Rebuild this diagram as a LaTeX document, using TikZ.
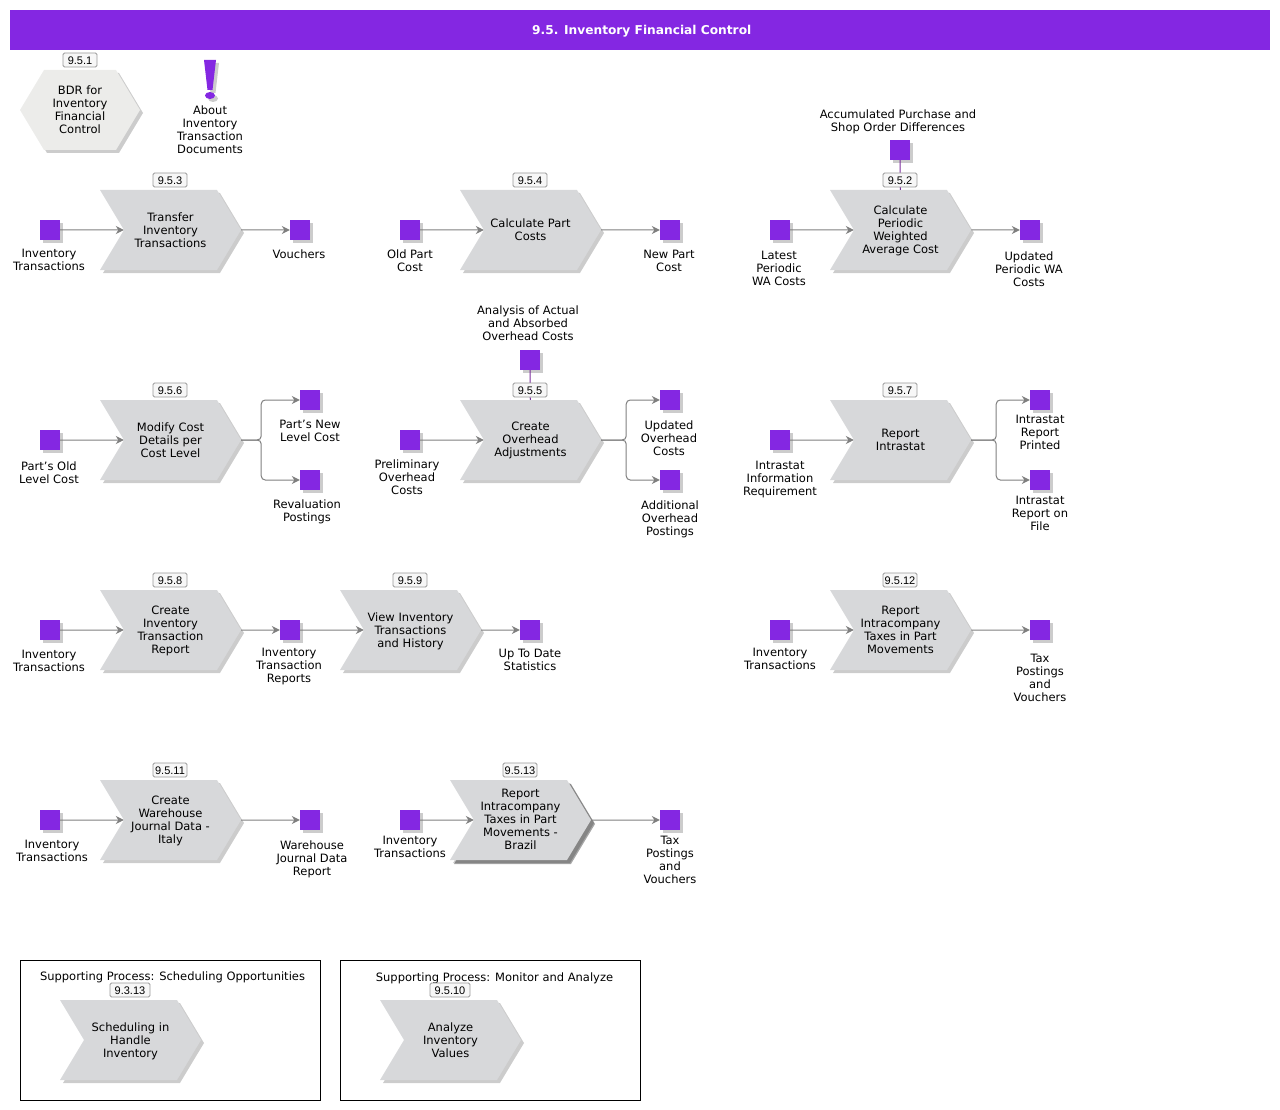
\documentclass[tikz,border=0pt]{standalone}
\usepackage{fontspec}
\setmainfont{DejaVu Sans}
\newfontfamily\tagfont{Liberation Sans}
\usetikzlibrary{arrows.meta,positioning,shapes.symbols,shadows}
\definecolor{procpurple}{HTML}{8427E2}
\definecolor{chevgray}{HTML}{D7D8DA}
\definecolor{hexgray}{HTML}{ECECEA}
\definecolor{linkgray}{HTML}{7F7F7F}
\definecolor{infopurple}{HTML}{7B2D9B}
\tikzset{
  softshadow/.style={drop shadow={shadow xshift=3pt,shadow yshift=-3pt,fill=black,opacity=0.2}},
  bodytext/.style={align=center,font=\fontsize{11.5}{13}\selectfont,text depth=0.7pt},
  procbox/.style={shape=signal,signal from=west,signal to=east,signal pointer angle=118,minimum width=141pt,minimum height=80pt,inner sep=0pt,fill=chevgray,softshadow,bodytext},
  hexbox/.style={shape=signal,signal to=west and east,signal pointer angle=118,minimum width=120pt,minimum height=80pt,inner sep=0pt,fill=hexgray,softshadow,bodytext},
  evtbox/.style={minimum size=20pt,inner sep=0pt,fill=procpurple,softshadow},
  lbl/.style={inner sep=0pt,bodytext},
  numtag/.style={draw=black!40,line width=0.9pt,fill=white!97!black,rounded corners=1.5pt,minimum width=34pt,minimum height=14pt,inner sep=0pt,font=\tagfont\fontsize{11}{12}\selectfont,execute at begin node=\rule{0pt}{9.5pt}},
  flow/.style={draw=linkgray,line width=1pt,-{Stealth[length=8pt,width=8pt]}},
  elbow/.style={flow,rounded corners=4pt},
  info/.style={draw=infopurple,line width=1pt},
  supbox/.style={draw=black,line width=0.8pt,minimum width=300pt,minimum height=140pt,inner sep=0pt,outer sep=0pt},
}
\begin{document}
\begin{tikzpicture}[x=1pt,y=-1pt]
    \useasboundingbox (0,0) rectangle (1280,1110);
    % title
    \node[fill=procpurple,minimum width=1260pt,minimum height=40pt,inner sep=0pt,text=white,font=\bfseries\fontsize{12.2}{13}\selectfont] (title) at (640,30.5) {\hspace*{3.5pt}\rule{0pt}{11pt}9.5. Inventory Financial Control};

    % BDR and note
    \node[hexbox] (bdr) at (80,110) {BDR for\\Inventory\\Financial\\Control};
    \node[numtag] (tagbdr) at (80,60) {9.5.1};
    \fill[procpurple,softshadow] (204,60) -- (216,60) -- (212.5,90) -- (207.5,90) -- cycle;
    \fill[procpurple,softshadow] (210,95.5) ellipse (5pt and 3.5pt);
    \node[lbl] (about) at (210,130) {About\\Inventory\\Transaction\\Documents};

    % first row
    \node[evtbox] (a1) at (50,230) {};
    \node[lbl] (a1l) at (49,260) {Inventory\\Transactions};
    \node[procbox] (a2) at (170.5,230) {Transfer\\Inventory\\Transactions};
    \node[numtag] (a2t) at (170,180) {9.5.3};
    \node[evtbox] (a3) at (300,230) {};
    \node[lbl] (a3l) at (299,254) {Vouchers};
    \draw[flow] (a1) -- (a2);
    \draw[flow] (a2) -- (a3);

    \node[evtbox] (b1) at (410,230) {};
    \node[lbl] (b1l) at (410,261) {Old Part\\Cost};
    \node[procbox] (b2) at (530.5,230) {Calculate Part\\Costs};
    \node[numtag] (b2t) at (530,180) {9.5.4};
    \node[evtbox] (b3) at (670,230) {};
    \node[lbl] (b3l) at (669,261) {New Part\\Cost};
    \draw[flow] (b1) -- (b2);
    \draw[flow] (b2) -- (b3);

    \node[evtbox] (c1) at (780,230) {};
    \node[lbl] (c1l) at (779,269) {Latest\\Periodic\\WA Costs};
    \node[procbox] (c2) at (900.5,230) {Calculate\\Periodic\\Weighted\\Average Cost};
    \node[evtbox] (c3) at (1030,230) {};
    \node[lbl] (c3l) at (1029,269) {Updated\\Periodic WA\\Costs};
    \node[evtbox] (c4) at (900,150) {};
    \node[lbl] (c4l) at (898,120.5) {Accumulated Purchase and\\Shop Order Differences};
    \draw[flow] (c1) -- (c2);
    \draw[flow] (c2) -- (c3);
    \draw[info] (c4) -- (c2);
    \node[numtag] (c2t) at (900,180) {9.5.2};

    % second row
    \node[evtbox] (d1) at (50,440) {};
    \node[lbl] (d1l) at (49,472.5) {Part's Old\\Level Cost};
    \node[procbox] (d2) at (170.5,440) {Modify Cost\\Details per\\Cost Level};
    \node[numtag] (d2t) at (170,390) {9.5.6};
    \node[evtbox] (d3) at (310,400) {};
    \node[lbl] (d3l) at (310,431.5) {Part's New\\Level Cost};
    \node[evtbox] (d4) at (310,480) {};
    \node[lbl] (d4l) at (307,510.5) {Revaluation\\Postings};
    \draw[flow] (d1) -- (d2);
    \draw[elbow] (d2.east) -- ++(20,0) |- (d3);
    \draw[elbow] (d2.east) -- ++(20,0) |- (d4);

    \node[evtbox] (e1) at (410,440) {};
    \node[lbl] (e1l) at (407,477) {Preliminary\\Overhead\\Costs};
    \node[procbox] (e2) at (530.5,440) {Create\\Overhead\\Adjustments};
    \node[evtbox] (e3) at (670,400) {};
    \node[lbl] (e3l) at (669,438) {Updated\\Overhead\\Costs};
    \node[evtbox] (e4) at (670,480) {};
    \node[lbl] (e4l) at (670,518) {Additional\\Overhead\\Postings};
    \node[evtbox] (e5) at (530,360) {};
    \node[lbl] (e5l) at (528,323) {Analysis of Actual\\and Absorbed\\Overhead Costs};
    \draw[flow] (e1) -- (e2);
    \draw[elbow] (e2.east) -- ++(25,0) |- (e3);
    \draw[elbow] (e2.east) -- ++(25,0) |- (e4);
    \draw[info] (e5) -- (e2);
    \node[numtag] (e2t) at (530,390) {9.5.5};

    \node[evtbox] (f1) at (780,440) {};
    \node[lbl] (f1l) at (780,479) {Intrastat\\Information\\Requirement};
    \node[procbox] (f2) at (900.5,440) {Report\\Intrastat};
    \node[numtag] (f2t) at (900,390) {9.5.7};
    \node[evtbox] (f3) at (1040,400) {};
    \node[lbl] (f3l) at (1040,433) {Intrastat\\Report\\Printed};
    \node[evtbox] (f4) at (1040,480) {};
    \node[lbl] (f4l) at (1040,514) {Intrastat\\Report on\\File};
    \draw[flow] (f1) -- (f2);
    \draw[elbow] (f2.east) -- ++(25,0) |- (f3);
    \draw[elbow] (f2.east) -- ++(25,0) |- (f4);

    % third row
    \node[evtbox] (g1) at (50,630) {};
    \node[lbl] (g1l) at (49,661) {Inventory\\Transactions};
    \node[procbox] (g2) at (170.5,630) {Create\\Inventory\\Transaction\\Report};
    \node[numtag] (g2t) at (170,580) {9.5.8};
    \node[evtbox] (g3) at (290,630) {};
    \node[lbl] (g3l) at (289,666) {Inventory\\Transaction\\Reports};
    \node[procbox] (g4) at (410.5,630) {View Inventory\\Transactions\\and History};
    \node[numtag] (g4t) at (410,580) {9.5.9};
    \node[evtbox] (g5) at (530,630) {};
    \node[lbl] (g5l) at (530,660) {Up To Date\\Statistics};
    \draw[flow] (g1) -- (g2);
    \draw[flow] (g2) -- (g3);
    \draw[flow] (g3) -- (g4);
    \draw[flow] (g4) -- (g5);

    \node[evtbox] (h1) at (780,630) {};
    \node[lbl] (h1l) at (780,659) {Inventory\\Transactions};
    \node[procbox] (h2) at (900.5,630) {Report\\Intracompany\\Taxes in Part\\Movements};
    \node[numtag] (h2t) at (900,580) {9.5.12};
    \node[evtbox] (h3) at (1040,630) {};
    \node[lbl] (h3l) at (1040,678) {Tax\\Postings\\and\\Vouchers};
    \draw[flow] (h1) -- (h2);
    \draw[flow] (h2) -- (h3);

    % fourth row
    \node[evtbox] (i1) at (50,820) {};
    \node[lbl] (i1l) at (52,851) {Inventory\\Transactions};
    \node[procbox] (i2) at (170.5,820) {Create\\Warehouse\\Journal Data -\\Italy};
    \node[numtag] (i2t) at (170,770) {9.5.11};
    \node[evtbox] (i3) at (310,820) {};
    \node[lbl] (i3l) at (312,858) {Warehouse\\Journal Data\\Report};
    \draw[flow] (i1) -- (i2);
    \draw[flow] (i2) -- (i3);

    \node[evtbox] (j1) at (410,820) {};
    \node[lbl] (j1l) at (410,847) {Inventory\\Transactions};
    \node[procbox,drop shadow={shadow xshift=4pt,shadow yshift=-4pt,fill=black,opacity=0.35}] (j2) at (520.5,820) {Report\\Intracompany\\Taxes in Part\\Movements -\\Brazil};
    \node[numtag] (j2t) at (520,770) {9.5.13};
    \node[evtbox] (j3) at (670,820) {};
    \node[lbl] (j3l) at (670,860) {Tax\\Postings\\and\\Vouchers};
    \draw[flow] (j1) -- (j2);
    \draw[flow] (j2) -- (j3);

    % supporting processes
    \node[supbox] (sup1) at (170.5,1030.5) {};
    \node[lbl] (sup1l) at (172.5,976) {Supporting Process: Scheduling Opportunities};
    \node[procbox] (k1) at (130.5,1040) {Scheduling in\\Handle\\Inventory};
    \node[numtag,minimum width=40pt] (k1t) at (130,990) {9.3.13};
    \node[supbox] (sup2) at (490.5,1030.5) {};
    \node[lbl] (sup2l) at (494.5,977) {Supporting Process: Monitor and Analyze};
    \node[procbox] (k2) at (450.5,1040) {Analyze\\Inventory\\Values};
    \node[numtag,minimum width=40pt] (k2t) at (450,990) {9.5.10};
\end{tikzpicture}
\end{document}
